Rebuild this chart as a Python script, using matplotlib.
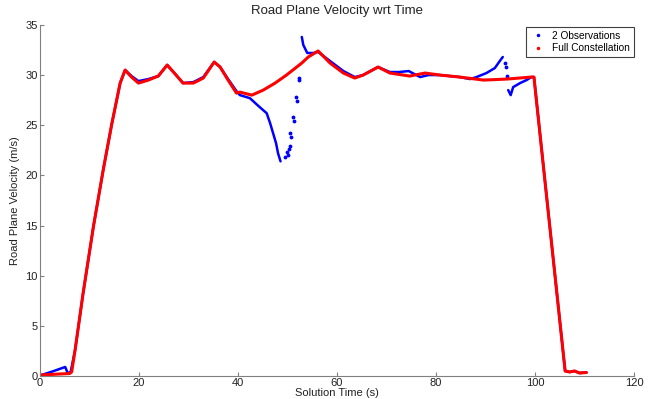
import numpy as np
import matplotlib.pyplot as plt
from matplotlib.lines import Line2D

plt.rcParams['font.family'] = ['Liberation Sans', 'DejaVu Sans']

# Full Constellation solution
full_t = [0, 2, 4, 6.0, 6.4, 7.1, 8.7, 10.8, 12.8, 14.5, 16.2, 17.2, 18.5, 19.9,
          21.9, 23.9, 25.7, 27.5, 28.9, 31.0, 33.0, 35.2, 36.4, 38.0, 39.7, 40.4,
          42.8, 45.1, 47.5, 49.8, 52.9, 54.2, 56.2, 58.6, 61.3, 63.6, 65.3, 68.3,
          70.7, 74.7, 77.8, 80.8, 84.8, 89.6, 94.3, 99.3, 99.8, 103.0, 106.1,
          107.0, 108.0, 109.0, 110.4]
full_v = [0.1, 0.15, 0.2, 0.25, 0.4, 2.6, 8.2, 14.9, 20.6, 25.1, 29.2, 30.5, 29.8, 29.2,
          29.5, 29.9, 31.0, 30.0, 29.2, 29.2, 29.7, 31.3, 30.8, 29.5, 28.2, 28.3,
          28.0, 28.5, 29.2, 30.0, 31.2, 31.8, 32.4, 31.2, 30.2, 29.7, 30.0, 30.8,
          30.2, 29.9, 30.2, 30.0, 29.8, 29.5, 29.6, 29.8, 29.8, 14.9, 0.5,
          0.4, 0.5, 0.3, 0.35]

# 2 Observations solution, main trace (nan = gap where only scattered fixes exist)
obs_t = [0, 2.5, 5.1, 5.6, 6.2, 7.1, 8.7, 10.8, 12.8, 14.5, 16.2, 17.2, 18.5, 19.9,
         21.9, 23.9, 25.7, 27.5, 28.9, 31.0, 33.0, 35.2, 36.4, 38.0, 39.7, 40.4,
         42.4, 44.4, 45.8, 46.5, 47.1, 47.7, 48.1, 48.6, np.nan,
         52.9, 53.2, 54.0, 55.2, 56.2, 58.6, 61.3, 63.6, 65.3, 68.3, 70.7, 72.5,
         74.5, 76.8, 78.5, 80.8, 84.8, 86.9, 88.2, 90.2, 91.9, 92.9, 93.5, np.nan,
         94.6, 95.1, 95.6, 97.0, 98.3, 99.3, 99.8, 103.0, 106.1, 107.0, 108.0,
         109.0, 110.4]
obs_v = [0.05, 0.45, 0.9, 0.3, 0.4, 2.6, 8.2, 14.9, 20.6, 25.1, 29.2, 30.5, 29.9, 29.4,
         29.6, 29.9, 31.0, 30.0, 29.2, 29.3, 29.8, 31.3, 30.8, 29.6, 28.4, 28.0,
         27.7, 26.8, 26.2, 25.2, 24.2, 23.2, 22.2, 21.4, np.nan,
         33.8, 33.0, 32.2, 32.2, 32.3, 31.4, 30.4, 29.8, 30.0, 30.8, 30.3, 30.3,
         30.4, 29.8, 30.0, 30.0, 29.8, 29.6, 29.8, 30.2, 30.7, 31.4, 31.8, np.nan,
         28.5, 28.0, 28.8, 29.2, 29.5, 29.8, 29.8, 14.9, 0.5, 0.4, 0.5,
         0.3, 0.35]

# isolated 2-observation fixes
iso_t = [49.6, 49.9, 50.1, 50.3, 50.5, 50.6, 50.7, 51.2, 51.3, 51.8, 51.9, 52.3, 52.4,
         93.9, 94.1, 94.3]
iso_v = [21.8, 22.3, 22.0, 22.6, 22.9, 24.2, 23.8, 25.8, 25.4, 27.8, 27.4, 29.7, 29.5,
         31.2, 30.8, 29.9]

fig = plt.figure(figsize=(6.52, 3.99), dpi=100)
ax = fig.add_axes([0.0613, 0.0576, 0.911, 0.88])

ax.plot(obs_t, obs_v, color='#0000ff', lw=1.8, solid_capstyle='round')
ax.plot(iso_t, iso_v, ls='none', marker='.', ms=3.5, color='#0000ff')
ax.plot(full_t, full_v, color='#ff0000', lw=2.2, solid_capstyle='round')

ax.set_xlim(0, 120)
ax.set_ylim(0, 35)
ax.set_xticks(np.arange(0, 121, 20))
ax.set_yticks(np.arange(0, 36, 5))
ax.tick_params(direction='in', length=3, labelsize=8, colors='#808080',
               labelcolor='#222222', pad=1.5)
for s in ['top', 'right']:
    ax.spines[s].set_visible(False)
for s in ['left', 'bottom']:
    ax.spines[s].set_color('#808080')
    ax.spines[s].set_linewidth(0.8)

ax.set_title('Road Plane Velocity wrt Time', fontsize=9.5, color='#222222', pad=8)
ax.set_xlabel('Solution Time (s)', fontsize=8, color='#222222', labelpad=0)
ax.set_ylabel('Road Plane Velocity (m/s)', fontsize=8, color='#222222', labelpad=4)

handles = [Line2D([], [], ls='none', marker='.', ms=3, color='#0000ff'),
           Line2D([], [], ls='none', marker='.', ms=3, color='#ff0000')]
leg = ax.legend(handles, ['2 Observations', 'Full Constellation'], loc='upper right',
                fontsize=7.3, fancybox=False, framealpha=1, edgecolor='#404040',
                borderpad=0.35, handlelength=1.6, handletextpad=0.6, labelspacing=0.25,
                bbox_to_anchor=(1.008, 1.008))
leg.get_frame().set_linewidth(0.8)

fig.savefig('out.png', dpi=100)
